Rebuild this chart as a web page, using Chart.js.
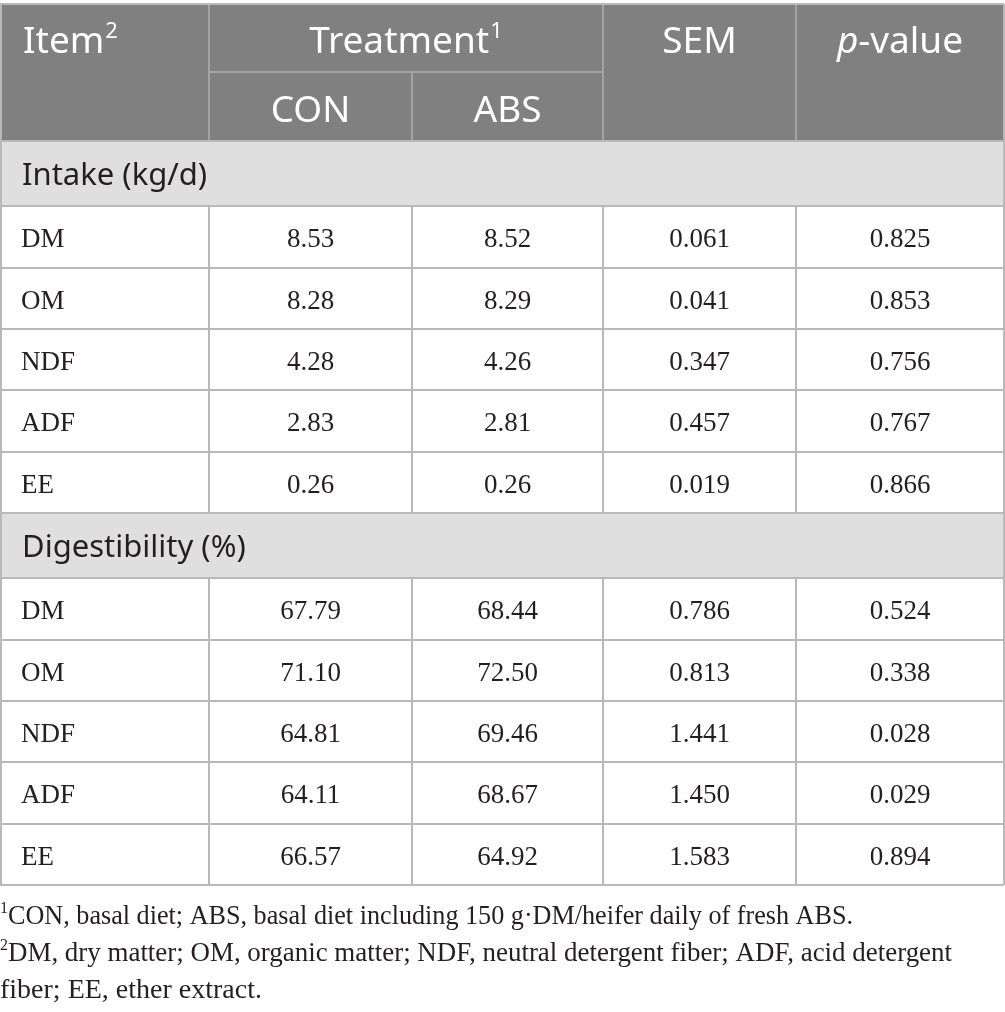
<!DOCTYPE html>
<html>
<head>
<meta charset="utf-8">
<script src="https://cdn.jsdelivr.net/npm/chart.js@4"></script>
<style>
  html, body { margin: 0; padding: 0; background: #fff; }
  #wrap { width: 1005px; height: 1012px; position: relative; }
</style>
</head>
<body>
<div id="wrap"><canvas id="tabla"></canvas></div>
<script>
// datos de la tabla
const items = ["DM", "OM", "NDF", "ADF", "EE"];
const sections = ["Intake (kg/d)", "Digestibility (%)"];
const treatments = ["CON", "ABS"];
const intakeCON = [8.53, 8.28, 4.28, 2.83, 0.26];
const intakeABS = [8.52, 8.29, 4.26, 2.81, 0.26];
const intakeSEM = [0.061, 0.041, 0.347, 0.457, 0.019];
const intakeP = [0.825, 0.853, 0.756, 0.767, 0.866];
const digCON = [67.79, 71.10, 64.81, 64.11, 66.57];
const digABS = [68.44, 72.50, 69.46, 68.67, 64.92];
const digSEM = [0.786, 0.813, 1.441, 1.450, 1.583];
const digP = [0.524, 0.338, 0.028, 0.029, 0.894];
const footnotes = [
  ["1", "CON, basal diet; ABS, basal diet including 150 g\u00B7DM/heifer daily of fresh ABS."],
  ["2", "DM, dry matter; OM, organic matter; NDF, neutral detergent fiber; ADF, acid detergent"],
  ["", "fiber; EE, ether extract."],
];

// layout (unidades de pagina)
const colEdges = [0, 209, 412, 603, 796, 1004];
const headerRows = [4, 72, 141];
const bodyHeights = [65, 62, 61, 61, 62, 61];
const footBase = [924, 961, 998];
const footEnd = [853, 952, 385];

const SANS = '"Noto Sans", "Open Sans", sans-serif';
const SERIF = '"Liberation Serif", "DejaVu Serif", serif';
const HEAD_BG = "#7f807f";
const SEC_BG = "#e0dfe0";
const LINE = "#b9b9b9";
const TEXT = "#231f20";

function bloques() {
  const rows = [];
  let y = headerRows[2];
  const grupos = [
    [intakeCON, intakeABS, intakeSEM, intakeP],
    [digCON, digABS, digSEM, digP],
  ];
  sections.forEach((s, si) => {
    rows.push({ type: "section", label: s, y0: y, y1: y + bodyHeights[0] });
    y += bodyHeights[0];
    items.forEach((it, i) => {
      const [a, b, sem, p] = grupos[si];
      const h = bodyHeights[1 + (i % 5)];
      rows.push({
        type: "data",
        cells: [it, a[i].toFixed(2), b[i].toFixed(2), sem[i].toFixed(3), p[i].toFixed(3)],
        y0: y, y1: y + h,
      });
      y += h;
    });
  });
  return rows;
}

function conSup(ctx, x, y, base, sup, font, supFont, align) {
  ctx.font = font;
  const wb = ctx.measureText(base).width;
  ctx.font = supFont;
  const ws = sup ? ctx.measureText(sup).width + 1 : 0;
  let x0 = x;
  if (align === "center") x0 = x - (wb + ws) / 2;
  ctx.textAlign = "left";
  ctx.font = font;
  ctx.fillText(base, x0, y);
  if (sup) {
    ctx.font = supFont;
    ctx.fillText(sup, x0 + wb + 1, y - 15);
  }
}

const tablaPlugin = {
  id: "tabla",
  afterDraw(chart) {
    const ctx = chart.ctx;
    const X = (v) => chart.scales.x.getPixelForValue(v);
    const Y = (v) => chart.scales.y.getPixelForValue(v);
    ctx.save();
    ctx.textBaseline = "alphabetic";

    // cabecera
    ctx.fillStyle = HEAD_BG;
    ctx.fillRect(X(colEdges[0]), Y(headerRows[0]), X(colEdges[5]) - X(colEdges[0]), Y(headerRows[2]) - Y(headerRows[0]));
    ctx.strokeStyle = "#a3a4a3";
    ctx.lineWidth = 2;
    ctx.beginPath();
    [1, 3, 4].forEach((c) => { ctx.moveTo(X(colEdges[c]), Y(headerRows[0])); ctx.lineTo(X(colEdges[c]), Y(headerRows[2])); });
    ctx.moveTo(X(colEdges[2]), Y(headerRows[1])); ctx.lineTo(X(colEdges[2]), Y(headerRows[2]));
    ctx.moveTo(X(colEdges[1]), Y(headerRows[1])); ctx.lineTo(X(colEdges[3]), Y(headerRows[1]));
    ctx.stroke();

    const hFont = "37px " + SANS;
    const hSup = "22px " + SANS;
    ctx.fillStyle = "#ffffff";
    const b1 = Y(53), b2 = Y(122);
    conSup(ctx, X(23), b1, "Item", "2", hFont, hSup, "left");
    conSup(ctx, X((colEdges[1] + colEdges[3]) / 2), b1, "Treatment", "1", hFont, hSup, "center");
    ctx.textAlign = "center";
    ctx.font = hFont;
    ctx.fillText("SEM", X((colEdges[3] + colEdges[4]) / 2), b1);
    treatments.forEach((t, i) => ctx.fillText(t, X((colEdges[1 + i] + colEdges[2 + i]) / 2), b2));
    // p-value con p en cursiva
    ctx.font = "italic " + hFont;
    const wp = ctx.measureText("p").width;
    ctx.font = hFont;
    const wv = ctx.measureText("-value").width;
    const px0 = X((colEdges[4] + colEdges[5]) / 2) - (wp + wv) / 2;
    ctx.textAlign = "left";
    ctx.font = "italic " + hFont;
    ctx.fillText("p", px0, b1);
    ctx.font = hFont;
    ctx.fillText("-value", px0 + wp, b1);

    // cuerpo
    const rows = bloques();
    rows.forEach((r) => {
      const y0 = Y(r.y0), y1 = Y(r.y1), mid = (y0 + y1) / 2;
      if (r.type === "section") {
        ctx.fillStyle = SEC_BG;
        ctx.fillRect(X(colEdges[0]), y0, X(colEdges[5]) - X(colEdges[0]), y1 - y0);
        ctx.fillStyle = TEXT;
        ctx.font = "31px " + SANS;
        ctx.textAlign = "left";
        ctx.fillText(r.label, X(22), mid + 11);
      } else {
        ctx.fillStyle = TEXT;
        ctx.font = "27px " + SERIF;
        r.cells.forEach((txt, c) => {
          if (c === 0) {
            ctx.textAlign = "left";
            ctx.fillText(txt, X(21), mid + 10);
          } else {
            ctx.textAlign = "center";
            ctx.fillText(txt, X((colEdges[c] + colEdges[c + 1]) / 2), mid + 10);
          }
        });
      }
    });

    // lineas del cuerpo
    ctx.strokeStyle = LINE;
    ctx.lineWidth = 2;
    ctx.beginPath();
    const top = Y(headerRows[2]);
    const bottom = Y(rows[rows.length - 1].y1);
    ctx.moveTo(X(colEdges[0]) + 1, Y(headerRows[0]));
    ctx.lineTo(X(colEdges[0]) + 1, bottom);
    ctx.moveTo(X(colEdges[5]), Y(headerRows[0]));
    ctx.lineTo(X(colEdges[5]), bottom);
    ctx.moveTo(X(colEdges[0]), Y(headerRows[0]));
    ctx.lineTo(X(colEdges[5]), Y(headerRows[0]));
    ctx.moveTo(X(colEdges[0]), top);
    ctx.lineTo(X(colEdges[5]), top);
    rows.forEach((r) => {
      ctx.moveTo(X(colEdges[0]), Y(r.y1));
      ctx.lineTo(X(colEdges[5]), Y(r.y1));
      if (r.type === "data") {
        [1, 2, 3, 4].forEach((c) => {
          ctx.moveTo(X(colEdges[c]), Y(r.y0));
          ctx.lineTo(X(colEdges[c]), Y(r.y1));
        });
      }
    });
    ctx.stroke();

    // notas
    ctx.fillStyle = TEXT;
    ctx.textAlign = "left";
    footnotes.forEach(([sup, txt], i) => {
      let x = X(0);
      if (sup) {
        ctx.font = "16px " + SERIF;
        ctx.fillText(sup, x, Y(footBase[i]) - 11);
        x += ctx.measureText(sup).width;
      }
      ctx.font = "28px " + SERIF;
      ctx.fillText(txt, x, Y(footBase[i]), X(footEnd[i]) - x);
    });
    ctx.restore();
  },
};

new Chart(document.getElementById("tabla"), {
  type: "scatter",
  data: { datasets: [] },
  options: {
    responsive: true,
    maintainAspectRatio: false,
    animation: false,
    layout: { padding: 0 },
    scales: {
      x: { type: "linear", min: 0, max: 1005, display: false },
      y: { type: "linear", min: 0, max: 1012, reverse: true, display: false },
    },
    plugins: { legend: { display: false }, tooltip: { enabled: false } },
  },
  plugins: [tablaPlugin],
});
</script>
</body>
</html>
